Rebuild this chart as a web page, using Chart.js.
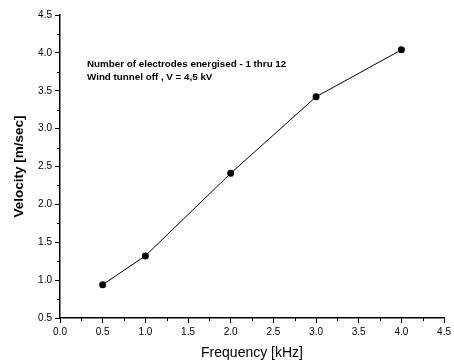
<!DOCTYPE html>
<html>
<head>
<meta charset="utf-8">
<script src="https://cdn.jsdelivr.net/npm/chart.js@4"></script>
<style>
  body { margin: 0; background: #fff; }
  #wrap { width: 454px; height: 362px; }
</style>
</head>
<body>
<div id="wrap"><canvas id="chart" width="454" height="362"></canvas></div>
<script>
// Data
const frequency = [0.5, 1.0, 2.0, 3.0, 4.0];
const velocity = [0.94, 1.32, 2.41, 3.42, 4.04];
const note_lines = [
    "Number of electrodes energised - 1 thru 12",
    "Wind tunnel off , V = 4,5 kV"
];

const font_name = "'Liberation Sans', Arial, sans-serif";

// Minor ticks and the note text
const extras = {
    id: 'extras',
    afterDraw(chart) {
        const ctx = chart.ctx;
        const x = chart.scales.x;
        const y = chart.scales.y;
        ctx.save();
        ctx.strokeStyle = '#000';
        ctx.lineWidth = 1;
        for (var v = 0.25; v < 4.5; v += 0.5) {
            const px = Math.round(x.getPixelForValue(v)) + 0.5;
            ctx.beginPath();
            ctx.moveTo(px, y.bottom);
            ctx.lineTo(px, y.bottom + 3);
            ctx.stroke();
        }
        for (var w = 0.75; w < 4.5; w += 0.5) {
            const py = Math.round(y.getPixelForValue(w)) + 0.5;
            ctx.beginPath();
            ctx.moveTo(x.left - 3, py);
            ctx.lineTo(x.left, py);
            ctx.stroke();
        }
        ctx.fillStyle = '#000';
        ctx.font = "bold 9.8px " + font_name;
        ctx.textBaseline = 'middle';
        ctx.fillText(note_lines[0], 87, 64);
        ctx.fillText(note_lines[1], 87, 77);
        ctx.restore();
    }
};

new Chart(document.getElementById('chart'), {
    type: 'line',
    data: {
        datasets: [{
            data: frequency.map((f, i) => ({x: f, y: velocity[i]})),
            borderColor: '#000',
            backgroundColor: '#000',
            borderWidth: 1,
            pointRadius: 3.5,
            pointBorderWidth: 0,
            tension: 0
        }]
    },
    options: {
        responsive: false,
        animation: false,
        layout: { padding: { top: 15, right: 8, left: 0, bottom: 0 } },
        plugins: { legend: { display: false }, tooltip: { enabled: false } },
        scales: {
            x: {
                type: 'linear',
                min: 0, max: 4.5,
                afterFit: s => { s.height = 44; },
                ticks: {
                    stepSize: 0.5,
                    color: '#000',
                    padding: 3,
                    font: { family: font_name, size: 10 },
                    callback: v => v.toFixed(1)
                },
                grid: { drawOnChartArea: false, tickLength: 5, tickColor: '#000' },
                border: { color: '#000', width: 1.5 },
                title: {
                    display: true,
                    text: 'Frequency [kHz]',
                    color: '#000',
                    font: { family: font_name, size: 14 },
                    padding: { top: 3, bottom: 0 }
                }
            },
            y: {
                type: 'linear',
                min: 0.5, max: 4.5,
                afterFit: s => { s.width = 60; },
                ticks: {
                    stepSize: 0.5,
                    color: '#000',
                    padding: 3,
                    font: { family: font_name, size: 10 },
                    callback: v => v.toFixed(1)
                },
                grid: { drawOnChartArea: false, tickLength: 5, tickColor: '#000' },
                border: { color: '#000', width: 1.5 },
                title: {
                    display: true,
                    text: 'Velocity [m/sec]',
                    color: '#000',
                    font: { family: font_name, size: 13.5, weight: 'bold' },
                    padding: { top: 11, bottom: 0 }
                }
            }
        }
    },
    plugins: [extras]
});
</script>
</body>
</html>
